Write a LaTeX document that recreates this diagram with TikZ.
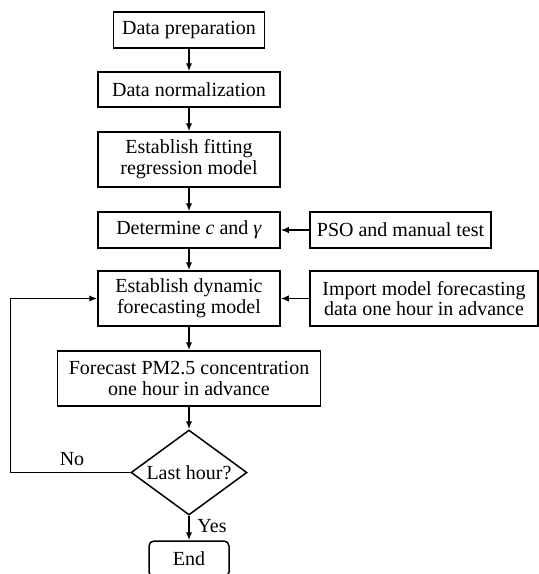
\documentclass[tikz,border=0pt]{standalone}
\usepackage{fontspec}
\setmainfont{Liberation Serif}
\usetikzlibrary{shapes.geometric,arrows.meta}
\begin{document}
\begin{tikzpicture}[x=0.5pt, y=-0.5pt, line width=0.75pt,
        font=\fontsize{10}{10.4}\selectfont,
        >={Latex[length=4pt,width=3.2pt]},
        box/.style={draw, shape=rectangle, align=center, inner sep=0pt}]
            \clip (0,0) rectangle (539,574);
            
            \node[box, minimum width=75.5pt, minimum height=18pt] (DP) at (189, 30) {Data preparation};
            \node[box, minimum width=91pt, minimum height=17.5pt] (DN) at (189, 89.5) {Data normalization};
            \node[box, minimum width=91pt, minimum height=27.5pt] (FR) at (189, 159.5) {Establish fitting\\regression model};
            \node[box, minimum width=91pt, minimum height=18pt] (DC) at (189, 230) {Determine \textit{c} and \textit{γ}};
            \node[box, minimum width=91pt, minimum height=27.5pt] (DM) at (189, 298.5) {Establish dynamic\\forecasting model};
            \node[box, minimum width=131.5pt, minimum height=27.5pt] (FC) at (189, 378.5) {Forecast PM2.5 concentration\\one hour in advance};
            \node[draw, shape=diamond, aspect=1.4, inner sep=0pt, minimum width=58pt, minimum height=42.5pt] (LH) at (189, 472.5) {Last hour?};
            \node[box, rounded corners=2.5pt, minimum width=40pt, minimum height=18pt] (EN) at (189, 559) {End};
            
            \node[box, minimum width=90.5pt, minimum height=18pt] (PS) at (400.5, 230) {PSO and manual test};
            \node[box, minimum width=114pt, minimum height=27.5pt] (IM) at (424, 298.5) {Import model forecasting\\data one hour in advance};
            
            \draw[->] (DP) -- (DN);
            \draw[->] (DN) -- (FR);
            \draw[->] (FR) -- (DC);
            \draw[->] (DC) -- (DM);
            \draw[->] (DM) -- (FC);
            \draw[->] (FC) -- (LH);
            \draw[->] (LH) -- (EN);
            
            \draw[->] (PS) -- (DC);
            \draw[->] (IM) -- (DM);
            \draw[->] (LH.west) -- ++(-120, 0) |- (DM.west);
            
            \node (NO) at (72, 459) {No};
            \node (YS) at (212, 526) {Yes};
        \end{tikzpicture}
\end{document}
